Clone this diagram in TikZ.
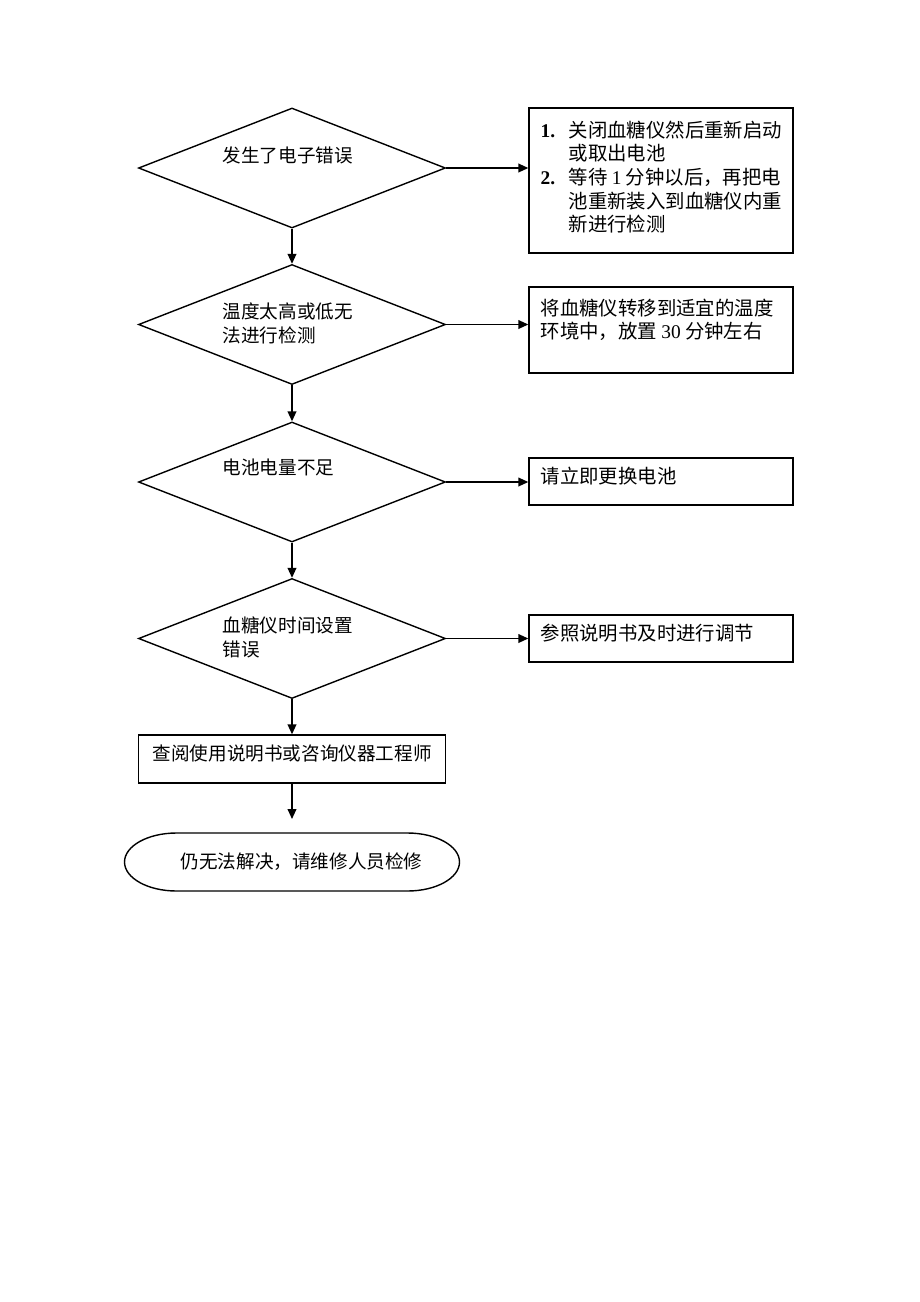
\documentclass[tikz,border=0pt]{standalone}
\usepackage{fontspec}
\setmainfont{Liberation Serif}
\newfontfamily\cjk{Noto Sans CJK SC}
\usetikzlibrary{shapes.geometric,arrows.meta}

\begin{document}
\begin{tikzpicture}[x=0.5pt,y=-0.5pt,line width=0.7pt,
  every node/.style={inner sep=0pt},
  dia/.style={diamond,draw,minimum width=153.5pt,minimum height=60pt},
  box/.style={rectangle,draw,minimum width=132pt},
  txt/.style={font=\cjk\fontsize{9.3}{12}\selectfont,align=left,anchor=west},
  boxtxt/.style={font=\cjk\fontsize{9.7}{11.8}\selectfont,align=left,anchor=west},
  arr/.style={-{Triangle[length=5pt,width=4.4pt]}}]
\useasboundingbox (0,0) rectangle (920,1302);
\node (d1) [dia] at (292,168) {} ;
\node (d1t) [txt] at (222,155) {发生了电子错误} ;
\node (d2) [dia] at (292,324.5) {} ;
\node (d2t) [txt] at (222,323) {温度太高或低无\\法进行检测} ;
\node (d3) [dia] at (292,482) {} ;
\node (d3t) [txt] at (222,467) {电池电量不足} ;
\node (d4) [dia] at (292,638.5) {} ;
\node (d4t) [txt] at (222,637) {血糖仪时间设置\\错误} ;
\node (b1) [box,minimum height=72.5pt] at (661,180.5) {} ;
\node (b1t) [boxtxt] at (540,177) {\makebox[14pt][l]{\rmfamily\bfseries 1.}关闭血糖仪然后重新启动\\
  \hspace*{14pt}或取出电池\\
  \makebox[14pt][l]{\rmfamily\bfseries 2.}等待 {\rmfamily 1} 分钟以后，再把电\\
  \hspace*{14pt}池重新装入到血糖仪内重\\
  \hspace*{14pt}新进行检测} ;
\node (b2) [box,minimum height=43pt] at (661,330) {} ;
\node (b2t) [boxtxt] at (540,320) {将血糖仪转移到适宜的温度\\环境中，放置 {\rmfamily 30} 分钟左右} ;
\node (b3) [box,minimum height=23.5pt] at (661,481.5) {} ;
\node (b3t) [boxtxt] at (540,476) {请立即更换电池} ;
\node (b4) [box,minimum height=23.5pt] at (661,638.5) {} ;
\node (b4t) [boxtxt] at (540,633) {参照说明书及时进行调节} ;
\node (b5) [box,minimum width=153.5pt,minimum height=24pt] at (292,759) {} ;
\node (b5t) [txt] at (152,753) {查阅使用说明书或咨询仪器工程师} ;
\node (e) [rectangle,outer sep=0pt,minimum width=167.5pt,minimum height=29pt] at (292,862) {} ;
\node (et) [txt] at (180,862) {仍无法解决，请维修人员检修} ;
% end shape with elliptic ends
\draw ([xshift=26pt]e.north west) -- ([xshift=-26pt]e.north east)
  arc[start angle=90,end angle=-90,x radius=26pt,y radius=14.5pt]
  -- ([xshift=26pt]e.south west)
  arc[start angle=270,end angle=90,x radius=26pt,y radius=14.5pt] -- cycle ;
\draw [arr] (d1.east) to (d1.east -| b1.west) ;
\draw [arr] (d2.east) to (d2.east -| b2.west) ;
\draw [arr] (d3.east) to (d3.east -| b3.west) ;
\draw [arr] (d4.east) to (d4.east -| b4.west) ;
\draw [arr] (d1.south) to (d2.north) ;
\draw [arr] (d2.south) to (d3.north) ;
\draw [arr] (d3.south) to (d4.north) ;
\draw [arr] (d4.south) to (b5.north) ;
\draw [arr,shorten >=7pt] (b5.south) to (e.north) ;
\end{tikzpicture}
\end{document}
